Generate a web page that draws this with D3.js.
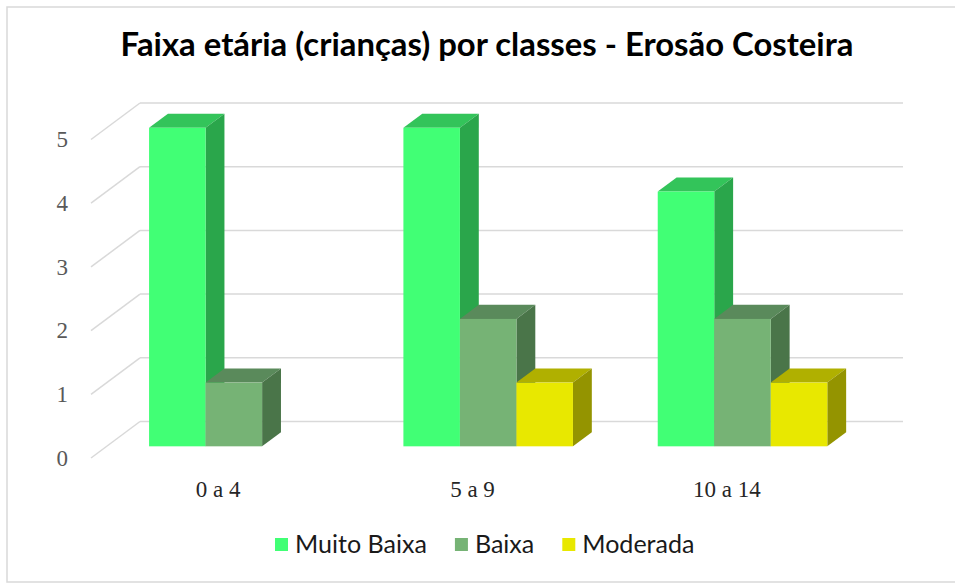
<!DOCTYPE html>
<html>
<head>
<meta charset="utf-8">
<script src="https://cdn.jsdelivr.net/npm/d3@7"></script>
<style>
  html, body { margin: 0; padding: 0; background: #fff; }
  svg { display: block; }
</style>
</head>
<body>
<div class="chart"></div>
<script>
// data
var categories = ["0 a 4", "5 a 9", "10 a 14"];
var seriesNames = ["Muito Baixa", "Baixa", "Moderada"];
var muitoBaixa = [5, 5, 4];
var baixa = [1, 2, 2];
var moderada = [0, 1, 1];
var yTicks = [0, 1, 2, 3, 4, 5];
var title = "Faixa etária (crianças) por classes - Erosão Costeira";

var values = [muitoBaixa, baixa, moderada];

// front, top, side colours per series
var palette = [
  { front: "#41FF75", top: "#33C45A", side: "#2AA64B" },
  { front: "#76B375", top: "#5A8A5B", side: "#4A7549" },
  { front: "#E8E800", top: "#B0B000", side: "#949400" }
];

var w = 955, h = 583;

var svg = d3.select("div.chart")
            .append("svg")
            .attr("width", w)
            .attr("height", h)
            .attr("viewBox", `0 0 ${w} ${h}`);

// chart border
svg.append("rect")
   .attr("x", 7).attr("y", 7)
   .attr("width", w + 10).attr("height", h - 8)
   .attr("fill", "#fff")
   .attr("stroke", "#d9d9d9")
   .attr("stroke-width", 1.5);

// plot frame (front-left floor corner) and depth vector
var x0 = 91, y0 = 458, plotW = 763;
var depth = { dx: 49, dy: -36.5 };
var barDepth = { d0: 0.32, d1: 0.705 };

var yScale = d3.scaleLinear().domain([0, 5]).range([y0, y0 - 318.5]);
var xScale = d3.scaleBand().domain(categories).range([x0, x0 + plotW]);

// gap width 150% -> group of 3 bars takes 3/4.5 of band
var groupW = xScale.bandwidth() * 3 / 4.5;
var sScale = d3.scaleBand().domain(seriesNames)
               .range([(xScale.bandwidth() - groupW) / 2, (xScale.bandwidth() + groupW) / 2]);

//gridlines: side wall diagonals + back wall lines
var grid = svg.append("g").attr("stroke", "#d9d9d9").attr("stroke-width", 1.5).attr("fill", "none");
grid.selectAll(".diag")
    .data(yTicks)
    .enter()
    .append("line")
      .attr("x1", x0).attr("y1", d => yScale(d))
      .attr("x2", x0 + depth.dx).attr("y2", d => yScale(d) + depth.dy);
grid.selectAll(".back")
    .data(yTicks)
    .enter()
    .append("line")
      .attr("x1", x0 + depth.dx).attr("y1", d => yScale(d) + depth.dy)
      .attr("x2", x0 + depth.dx + plotW).attr("y2", d => yScale(d) + depth.dy);

// bars
var bars = [];
categories.forEach(function(c, ci){
  seriesNames.forEach(function(s, si){
    if(values[si][ci] > 0) bars.push({ cat: c, ser: s, si: si, v: values[si][ci] });
  });
});

var ox = depth.dx * barDepth.d0, oy = depth.dy * barDepth.d0;
var bx = depth.dx * (barDepth.d1 - barDepth.d0), by = depth.dy * (barDepth.d1 - barDepth.d0);

var barGroups = svg.append("g")
   .selectAll(".bar")
   .data(bars)
   .enter()
   .append("g")
   .attr("class", "bar");

barGroups.each(function(d){
  var g = d3.select(this);
  var left = xScale(d.cat) + sScale(d.ser) + ox;
  var right = left + sScale.bandwidth();
  var bottom = yScale(0) + oy;
  var top = yScale(d.v) + oy;
  var col = palette[d.si];

  g.append("path")
   .attr("d", `M${left},${top}L${right},${top}L${right + bx},${top + by}L${left + bx},${top + by}Z`)
   .attr("fill", col.top);
  g.append("path")
   .attr("d", `M${right},${top}L${right + bx},${top + by}L${right + bx},${bottom + by}L${right},${bottom}Z`)
   .attr("fill", col.side);
  g.append("rect")
   .attr("x", left).attr("y", top)
   .attr("width", right - left).attr("height", bottom - top)
   .attr("fill", col.front);
});

// axes
var yAxis = svg.append("g")
   .attr("transform", `translate(${x0},0)`)
   .call(d3.axisLeft(yScale).tickValues(yTicks).tickSize(0).tickPadding(23).tickFormat(d3.format("d")));
yAxis.select(".domain").remove();
yAxis.selectAll("text")
     .attr("font-family", "'Liberation Serif', 'DejaVu Serif', serif")
     .attr("font-size", 23)
     .attr("fill", "#595959");

var xAxis = svg.append("g")
   .attr("transform", `translate(0,${y0})`)
   .call(d3.axisBottom(xScale).tickSize(0).tickPadding(23));
xAxis.select(".domain").remove();
xAxis.selectAll("text")
     .attr("font-family", "'Liberation Serif', 'DejaVu Serif', serif")
     .attr("font-size", 23)
     .attr("fill", "#262626");

// title, fit to the width seen in the reference
var titleText = svg.append("text")
   .attr("x", 487).attr("y", 56)
   .attr("text-anchor", "middle")
   .attr("font-family", "Lato, 'Noto Sans', sans-serif")
   .attr("font-weight", "bold")
   .attr("font-size", 27)
   .attr("fill", "#000")
   .text(title);
var tw = titleText.node().getComputedTextLength();
titleText.attr("font-size", 27 * Math.min(1.3, 733 / tw));

// legend
var legend = svg.append("g");
var items = legend.selectAll(".item")
   .data(seriesNames)
   .enter()
   .append("g")
   .attr("class", "item");
items.append("rect")
     .attr("width", 13).attr("height", 13)
     .attr("y", 538)
     .attr("fill", (d, i) => palette[i].front);
var legendTexts = items.append("text")
     .attr("x", 20).attr("y", 553)
     .attr("font-family", "Lato, 'Noto Sans', sans-serif")
     .attr("font-size", 21)
     .attr("fill", "#1a1a1a")
     .text(d => d);

// size legend font so the first label spans the reference width
var firstW = legendTexts.nodes()[0].getComputedTextLength();
legendTexts.attr("font-size", 21 * Math.min(1.3, 132 / firstW));

var lx = 275;
items.each(function(d){
  var t = d3.select(this).select("text").node().getComputedTextLength();
  d3.select(this).attr("transform", `translate(${lx},0)`);
  lx += 20 + t + 28;
});
</script>
</body>
</html>
